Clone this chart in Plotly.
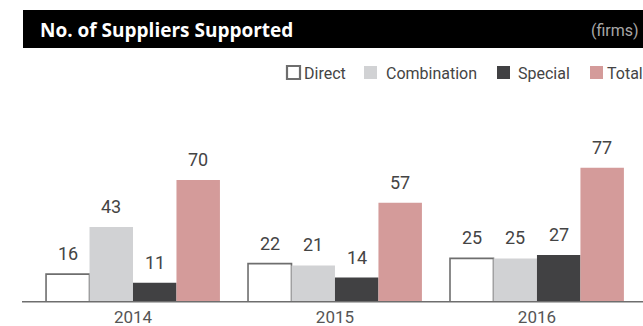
import plotly.graph_objects as go

years = ["2014", "2015", "2016"]
series_names = ["Direct", "Combination", "Special", "Total"]
direct = [16, 22, 25]
combination = [43, 21, 25]
special = [11, 14, 27]
total = [70, 57, 77]

W, H = 643, 326
ML, MR, MT, MB = 22, 0, 90, 24
PW, PH = W - ML - MR, H - MT - MB
Y_MAX = 121.6


def px(x):
    return (x - ML) / PW


def py(y):
    return (H - MB - y) / PH


fills = ["#ffffff", "#d1d2d4", "#414143", "#d49b9a"]
lines = ["#6e6e6e", "#d1d2d4", "#414143", "#d49b9a"]
values = [direct, combination, special, total]

fig = go.Figure()
for name, vals, fc, lc in zip(series_names, values, fills, lines):
    fig.add_trace(go.Bar(
        x=years, y=vals, name=name,
        marker=dict(color=fc, line=dict(color=lc, width=1.6 if name == "Direct" else 0)),
        showlegend=False,
    ))

bargap = 0.139
bw = (1 - bargap) / 4
annotations = []
for k, vals in enumerate(values):
    for i, v in enumerate(vals):
        annotations.append(dict(
            x=i + (k - 1.5) * bw, y=v, xref="x", yref="y",
            text=str(v), showarrow=False, yanchor="bottom", yshift=8,
            font=dict(family="Roboto", size=18, color="#444444"),
        ))

shapes = [
    dict(type="rect", xref="paper", yref="paper",
         x0=px(23), x1=px(643), y0=py(48), y1=py(10),
         fillcolor="#000000", line=dict(width=0), layer="below"),
    dict(type="line", xref="paper", yref="paper",
         x0=px(22), x1=px(643), y0=py(301.8), y1=py(301.8),
         line=dict(color="#6e6e6e", width=1.5)),
]

annotations.append(dict(
    x=px(38), y=py(30), xref="paper", yref="paper", xanchor="left", yanchor="middle",
    text="<b>No. of Suppliers Supported</b>", showarrow=False,
    font=dict(family="Open Sans", size=19, color="#ffffff"),
))
annotations.append(dict(
    x=px(641), y=py(30), xref="paper", yref="paper", xanchor="right", yanchor="middle",
    text="(firms)", showarrow=False,
    font=dict(family="Roboto", size=16, color="#a8a8a8"),
))

# legend drawn as swatches and labels
legend_items = [(287, 302), (364, 384), (497, 516), (590, 605)]
for (bx, tx), name, fc, lc in zip(legend_items, series_names, fills, lines):
    is_direct = name == "Direct"
    shapes.append(dict(
        type="rect", xref="paper", yref="paper",
        x0=px(bx), x1=px(bx + 13), y0=py(79), y1=py(66),
        fillcolor=fc, line=dict(color="#6e6e6e" if is_direct else fc, width=2.2 if is_direct else 0),
    ))
    annotations.append(dict(
        x=px(tx), y=py(73), xref="paper", yref="paper", xanchor="left", yanchor="middle",
        text=name, showarrow=False,
        font=dict(family="Roboto", size=16, color="#444444"),
    ))

fig.update_layout(
    width=W, height=H,
    margin=dict(l=ML, r=MR, t=MT, b=MB, pad=0, autoexpand=False),
    paper_bgcolor="#ffffff", plot_bgcolor="#ffffff",
    barmode="group", bargap=bargap, bargroupgap=0,
    xaxis=dict(range=[-0.5495, 2.525], showgrid=False, zeroline=False, showline=False,
               ticks="", tickfont=dict(family="Roboto", size=17, color="#555555"),
               ticklabelstandoff=3, automargin=False),
    yaxis=dict(range=[0, Y_MAX], visible=False, automargin=False),
    shapes=shapes, annotations=annotations,
)

fig.write_html("out.html")
